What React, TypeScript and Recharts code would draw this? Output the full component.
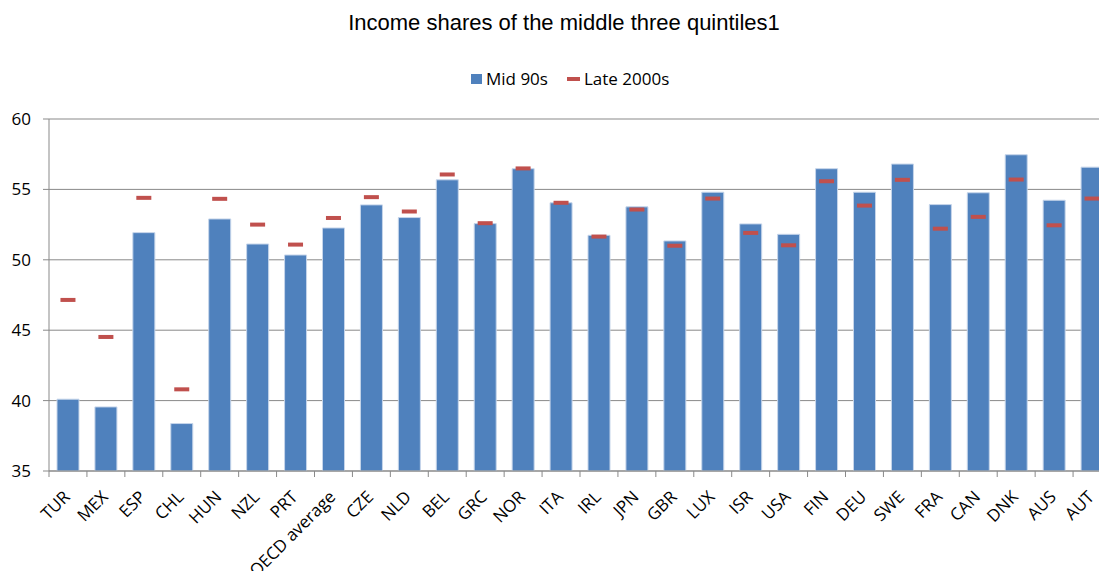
import React from "react";
import {
  ComposedChart,
  Bar,
  Line,
  XAxis,
  YAxis,
  CartesianGrid,
} from "recharts";

const countries = [
  "TUR", "MEX", "ESP", "CHL", "HUN", "NZL", "PRT", "OECD average", "CZE", "NLD",
  "BEL", "GRC", "NOR", "ITA", "IRL", "JPN", "GBR", "LUX", "ISR", "USA",
  "FIN", "DEU", "SWE", "FRA", "CAN", "DNK", "AUS", "AUT",
];

const mid90s = [
  40.1, 39.55, 51.93, 38.37, 52.9, 51.12, 50.34, 52.26, 53.9, 53.0,
  55.68, 52.57, 56.47, 54.05, 51.74, 53.76, 51.34, 54.8, 52.55, 51.81,
  56.47, 54.8, 56.8, 53.92, 54.76, 57.46, 54.23, 56.58,
];

const late2000s = [
  47.15, 44.52, 54.4, 40.8, 54.33, 52.5, 51.08, 52.97, 54.45, 53.43,
  56.06, 52.6, 56.49, 54.05, 51.65, 53.57, 51.0, 54.35, 51.91, 51.03,
  55.58, 53.85, 55.68, 52.21, 53.05, 55.7, 52.45, 54.35,
];

const yTicks = [35, 40, 45, 50, 55, 60];

const seriesNames = { a: "Mid 90s", b: "Late 2000s" };

const data = countries.map((c, i) => ({
  country: c,
  mid: mid90s[i],
  late: late2000s[i],
}));

const CHART_W = 1125;
const PLOT_LEFT = 49;
const PLOT_RIGHT = 1111;
const BAND = (PLOT_RIGHT - PLOT_LEFT) / countries.length;
const FONT = "'Open Sans', sans-serif";

function XTick(props: any) {
  const { x, y, payload } = props;
  const tx = x + 3;
  const ty = y + 27;
  return (
    <g>
      <line x1={x - BAND / 2} x2={x - BAND / 2} y1={y} y2={y + 6} stroke="#898989" strokeWidth={1} />
      <text
        x={tx}
        y={ty}
        textAnchor="end"
        fontSize={17}
        fontFamily={FONT}
        fill="#000"
        transform={`rotate(-45, ${tx}, ${ty})`}
      >
        {payload.value}
      </text>
    </g>
  );
}

function Dash(props: any) {
  const { cx, cy, index } = props;
  if (cx == null || cy == null) return <g key={index} />;
  return <rect key={index} x={cx - 7.5} y={cy - 2} width={15} height={4} fill="#C0504D" />;
}

export default function App() {
  return (
    <div
      style={{
        position: "absolute",
        left: 0,
        top: 0,
        width: 1099,
        height: 571,
        overflow: "hidden",
        background: "#fff",
      }}
    >
      <div
        style={{
          position: "absolute",
          top: 10,
          left: 0,
          width: 1128,
          textAlign: "center",
          fontFamily: "'Liberation Sans', Arial, sans-serif",
          fontSize: 22,
          color: "#000",
        }}
      >
        Income shares of the middle three quintiles1
      </div>
      <div
        style={{
          position: "absolute",
          top: 67,
          left: 471,
          display: "flex",
          alignItems: "center",
          fontFamily: FONT,
          fontSize: 17,
          color: "#000",
          whiteSpace: "nowrap",
        }}
      >
        <span style={{ display: "inline-block", width: 11, height: 10, background: "#4F81BD", marginRight: 4 }} />
        <span>{seriesNames.a}</span>
        <span style={{ display: "inline-block", width: 13, height: 4, background: "#C0504D", marginLeft: 19, marginRight: 4 }} />
        <span>{seriesNames.b}</span>
      </div>
      <ComposedChart
        width={CHART_W}
        height={571}
        data={data}
        margin={{ top: 119, right: CHART_W - PLOT_RIGHT, left: 0, bottom: 0 }}
        barCategoryGap={0}
      >
        <CartesianGrid vertical={false} stroke="#898989" strokeWidth={1} />
        <XAxis
          dataKey="country"
          interval={0}
          height={100}
          tickLine={false}
          tickSize={0}
          tickMargin={0}
          axisLine={{ stroke: "#898989" }}
          tick={<XTick />}
        />
        <YAxis
          domain={[35, 60]}
          ticks={yTicks}
          width={PLOT_LEFT}
          allowDataOverflow
          axisLine={{ stroke: "#898989" }}
          tickLine={{ stroke: "#898989" }}
          tickSize={6}
          tickMargin={12}
          tick={{ fill: "#000", fontSize: 17, fontFamily: FONT }}
        />
        <Bar
          dataKey="mid"
          name={seriesNames.a}
          fill="#4F81BD"
          stroke="#C6D5EA"
          strokeWidth={1}
          barSize={22}
          isAnimationActive={false}
        />
        <Line
          dataKey="late"
          name={seriesNames.b}
          stroke="none"
          dot={Dash}
          activeDot={false}
          isAnimationActive={false}
        />
      </ComposedChart>
    </div>
  );
}
